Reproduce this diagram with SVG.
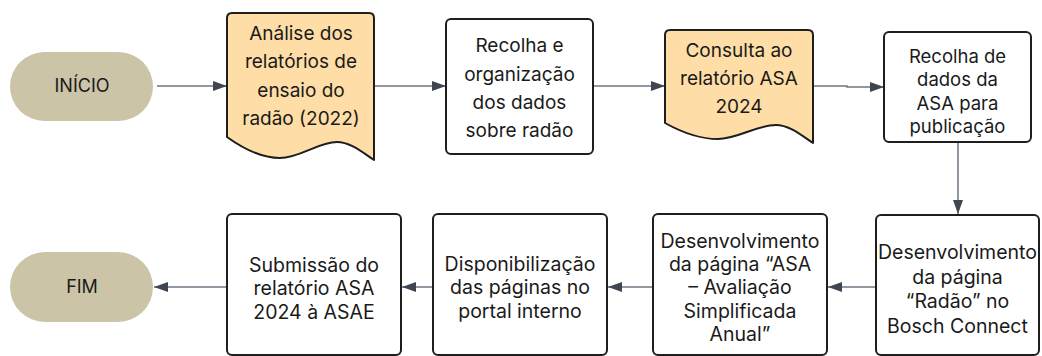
<svg xmlns="http://www.w3.org/2000/svg" width="1042" height="356" viewBox="0 0 1042 356">
<defs>
<marker id="arr" markerUnits="userSpaceOnUse" markerWidth="14" markerHeight="10" refX="14" refY="5" orient="auto">
<path d="M0,0 L14,5 L0,10 Z" fill="#3f4652"/>
</marker>
<style>
.pill{fill:#ccc4a6;stroke:none}
.doc{fill:#ffdda6;stroke:#1e1e1e;stroke-width:2;stroke-linejoin:round}
.box{fill:#ffffff;stroke:#1e1e1e;stroke-width:2}
.t{font-family:Inter,"Liberation Sans",sans-serif;fill:#1a1a1a;text-anchor:middle}
.t19{font-size:19px}
.t18{font-size:18px}
.t185{font-size:18.5px}
.t195{font-size:19.5px}
.conn{fill:none;stroke:#6f7681;stroke-width:1.5;marker-end:url(#arr)}
</style>
</defs>
<rect width="1042" height="356" fill="#ffffff"/>
<g id="connectors">
<path class="conn" d="M157,86 H227"/>
<path class="conn" d="M374,86 H446"/>
<path class="conn" d="M593,86 H665"/>
<path class="conn" d="M813,86 H847 V87 H884"/>
<path class="conn" d="M958,142 V214"/>
<path class="conn" d="M876,287 H828"/>
<path class="conn" d="M653,287 H608"/>
<path class="conn" d="M433,287 H402"/>
<path class="conn" d="M227,287 H154"/>
</g>
<g id="inicio">
<rect class="pill" x="10" y="52" width="143" height="69" rx="34.5"/>
<text class="t t18" x="82" y="92">INÍCIO</text>
</g>
<g id="analise">
<path class="doc" d="M227,137 V18 Q227,13 232,13 H369 Q374,13 374,18 V160 C362,152 350,142 337,142 C318,142 300,158 280,158 C262,158 245,150 227,137 Z"/>
<text class="t t19" x="301"><tspan x="301" y="39.5">Análise dos</tspan><tspan x="301" y="68">relatórios de</tspan><tspan x="301" y="96.5">ensaio do</tspan><tspan x="301" y="125">radão (2022)</tspan></text>
</g>
<g id="recolha-org">
<rect class="box" x="446" y="19" width="147" height="135" rx="5"/>
<text class="t t19"><tspan x="519.5" y="52.3">Recolha e</tspan><tspan x="519.5" y="80.7">organização</tspan><tspan x="519.5" y="109">dos dados</tspan><tspan x="519.5" y="137.3">sobre radão</tspan></text>
</g>
<g id="consulta">
<path class="doc" d="M665,123 V35 Q665,30 670,30 H808 Q813,30 813,35 V143 C801,135 789,125 776,125 C757,125 737,139 718,139 C700,139 683,133 665,123 Z"/>
<text class="t t19"><tspan x="739" y="56.7">Consulta ao</tspan><tspan x="739" y="85">relatório ASA</tspan><tspan x="739" y="113">2024</tspan></text>
</g>
<g id="recolha-asa">
<rect class="box" x="884" y="32" width="147" height="110" rx="5"/>
<text class="t t185"><tspan x="957.5" y="62.7">Recolha de</tspan><tspan x="957.5" y="86.2">dados da</tspan><tspan x="957.5" y="109.8">ASA para</tspan><tspan x="957.5" y="133.3">publicação</tspan></text>
</g>
<g id="dev-radao">
<rect class="box" x="876" y="215" width="163" height="140" rx="5"/>
<text class="t t195"><tspan x="957.5" y="259.3">Desenvolvimento</tspan><tspan x="957.5" y="283.7">da página</tspan><tspan x="957.5" y="308.2">“Radão” no</tspan><tspan x="957.5" y="332.7">Bosch Connect</tspan></text>
</g>
<g id="dev-asa">
<rect class="box" x="653" y="214" width="174" height="141" rx="5"/>
<text class="t t195"><tspan x="740" y="247.7">Desenvolvimento</tspan><tspan x="740" y="271">da página “ASA</tspan><tspan x="740" y="294.3">– Avaliação</tspan><tspan x="740" y="317.7">Simplificada</tspan><tspan x="740" y="341">Anual”</tspan></text>
</g>
<g id="disponibilizacao">
<rect class="box" x="433" y="214" width="174" height="141" rx="5"/>
<text class="t t195"><tspan x="520" y="271">Disponibilização</tspan><tspan x="520" y="294.3">das páginas no</tspan><tspan x="520" y="317.7">portal interno</tspan></text>
</g>
<g id="submissao">
<rect class="box" x="227" y="214" width="174" height="141" rx="5"/>
<text class="t t195"><tspan x="314" y="271.7">Submissão do</tspan><tspan x="314" y="295.3">relatório ASA</tspan><tspan x="314" y="319">2024 à ASAE</tspan></text>
</g>
<g id="fim">
<rect class="pill" x="10" y="252" width="143" height="70" rx="35"/>
<text class="t t18" x="82" y="293.3">FIM</text>
</g>
</svg>
